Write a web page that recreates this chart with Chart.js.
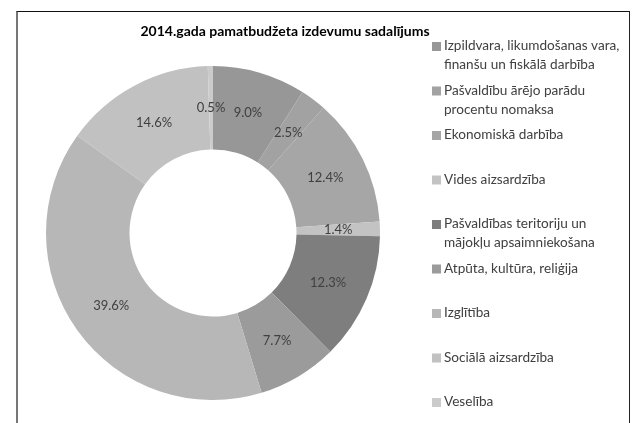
<!DOCTYPE html>
<html>
<head>
<meta charset="utf-8">
<script src="https://cdn.jsdelivr.net/npm/chart.js@4"></script>
<style>
  html, body { margin: 0; padding: 0; background: #fff; }
  #wrap { position: relative; width: 640px; height: 423px; }
  #frame {
    position: absolute; left: 16px; top: 11px; width: 611px; height: 420px;
    border-top: 1px solid #111; border-left: 2px solid #777; border-right: 1px solid #222;
    pointer-events: none;
  }
  canvas { position: absolute; left: 0; top: 0; }
</style>
</head>
<body>
<div id="wrap">
  <canvas id="chart" width="640" height="423"></canvas>
  <div id="frame"></div>
</div>
<script>
// --- dati ---
const chartTitle = '2014.gada pamatbudžeta izdevumu sadalījums';
const categories = [
  ['Izpildvara, likumdošanas vara,', 'finanšu un fiskālā darbība'],
  ['Pašvaldību ārējo parādu', 'procentu nomaksa'],
  ['Ekonomiskā darbība'],
  ['Vides aizsardzība'],
  ['Pašvaldības teritoriju un', 'mājokļu apsaimniekošana'],
  ['Atpūta, kultūra, reliģija'],
  ['Izglītība'],
  ['Sociālā aizsardzība'],
  ['Veselība']
];
const shares = [9.0, 2.5, 12.4, 1.4, 12.3, 7.7, 39.6, 14.6, 0.5];
const sliceColors = ['#979797', '#a2a2a2', '#a6a6a6', '#c3c3c3', '#7e7e7e', '#9b9b9b', '#b7b7b7', '#c1c1c1', '#cbcbcb'];

const fontFamily = 'Lato, "Open Sans", sans-serif';
const textColor = '#404040';

// virsraksts, procentu uzraksti un leģenda
const decorPlugin = {
  id: 'decor',
  afterDatasetsDraw: function (chart) {
    const ctx = chart.ctx;
    const meta = chart.getDatasetMeta(0);
    ctx.save();
    ctx.fillStyle = textColor;
    ctx.font = '13px ' + fontFamily;
    ctx.textAlign = 'center';
    ctx.textBaseline = 'middle';
    meta.data.forEach(function (arc, i) {
      const pos = arc.tooltipPosition();
      ctx.fillText(shares[i].toFixed(1) + '%', pos.x, pos.y);
    });
    ctx.restore();
  },
  afterDraw: function (chart) {
    const ctx = chart.ctx;
    ctx.save();
    ctx.fillStyle = '#000';
    ctx.font = 'bold 14px ' + fontFamily;
    ctx.textAlign = 'center';
    ctx.textBaseline = 'middle';
    ctx.fillText(chartTitle, 285, 31);

    ctx.font = '13.6px ' + fontFamily;
    ctx.textAlign = 'left';
    let y = 46;
    categories.forEach(function (lines, i) {
      ctx.fillStyle = sliceColors[i];
      ctx.fillRect(432, y - 4, 9, 9);
      ctx.fillStyle = textColor;
      lines.forEach(function (line, j) {
        ctx.fillText(line, 444, y + j * 19);
      });
      y += 44.5;
    });
    ctx.restore();
  }
};

new Chart(document.getElementById('chart'), {
  type: 'doughnut',
  data: {
    labels: categories,
    datasets: [{
      data: shares,
      backgroundColor: sliceColors,
      borderWidth: 0
    }]
  },
  options: {
    responsive: false,
    animation: false,
    cutout: '50%',
    layout: { padding: { left: 46, right: 260, top: 66, bottom: 23 } },
    plugins: {
      legend: { display: false },
      tooltip: { enabled: false },
      title: { display: false }
    }
  },
  plugins: [decorPlugin]
});
</script>
</body>
</html>
